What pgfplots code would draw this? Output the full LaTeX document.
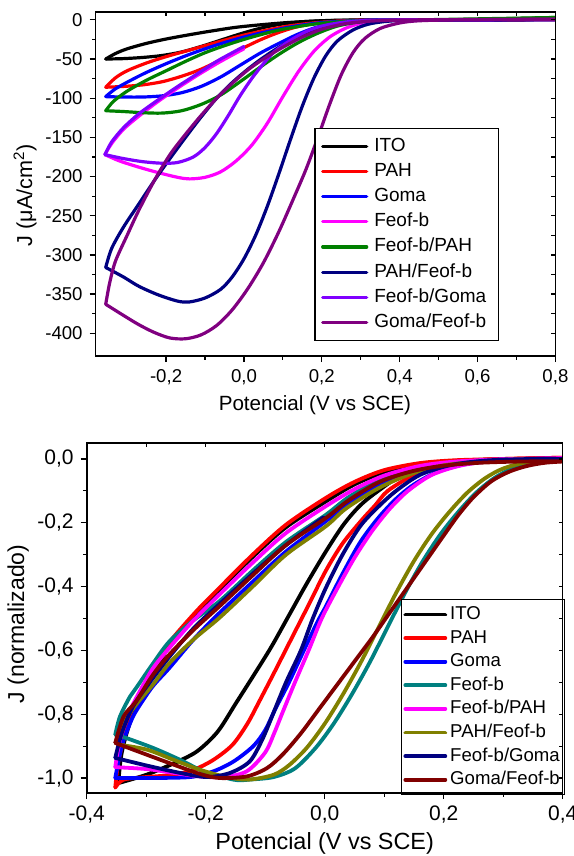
\documentclass[border=0pt]{standalone}
\usepackage{fontspec}
\setmainfont{Liberation Sans}
\usepackage{pgfplots}
\pgfplotsset{compat=1.18}

\definecolor{cMagenta}{RGB}{255,0,255}
\definecolor{cNavy}{RGB}{0,0,128}
\definecolor{cGreen}{RGB}{0,128,0}
\definecolor{cViolet}{RGB}{128,0,255}
\definecolor{cPurple}{RGB}{128,0,128}
\definecolor{cTeal}{RGB}{0,128,128}
\definecolor{cOlive}{RGB}{128,128,0}
\definecolor{cMaroon}{RGB}{128,0,0}

\pgfplotsset{
  frame/.style={scale only axis, axis line style={line width=0.8pt},
    tick style={line width=0.6pt, black}, major tick length=3pt, minor tick length=1.8pt,
    minor x tick num=1, minor y tick num=1,
    /pgf/number format/assume math mode=true, /pgf/number format/use comma,
    /pgf/number format/1000 sep={}},
  main/.style={frame, xtick pos=left, ytick pos=left, tick align=outside},
  mirror/.style={frame, xtick pos=right, ytick pos=right, tick align=inside,
    xticklabels={}, yticklabels={}, major tick length=2pt, minor tick length=2pt},
  topaxis/.style={at={(47.8pt,-178pt)}, anchor=south west, width=229.9pt, height=172pt,
    xmin=-0.381, xmax=0.8, ymin=-429, ymax=10,
    xtick={-0.2,0,0.2,0.4,0.6,0.8}, ytick={-400,-350,-300,-250,-200,-150,-100,-50,0}},
  botaxis/.style={at={(43.35pt,-396.5pt)}, anchor=south west, width=238pt, height=175pt,
    xmin=-0.4, xmax=0.4, ymin=-1.047, ymax=0.05,
    xtick={-0.4,-0.2,0,0.2,0.4}, ytick={-1,-0.8,-0.6,-0.4,-0.2,0}},
  t/.style={line width=1.6pt, smooth, line cap=round, line join=round},
  b/.style={line width=1.9pt, smooth, line cap=round, line join=round},
}

\begin{document}
\begin{tikzpicture}
\useasboundingbox (0,0) rectangle (286.5pt,-428pt);

% ---------- top panel: current density ----------
\begin{axis}[main, topaxis,
  tick label style={font=\fontsize{9.3}{11}\selectfont},
  xticklabel style={/pgf/number format/.cd, fixed, fixed zerofill, precision=1},
  yticklabel style={/pgf/number format/.cd, fixed, precision=0},
  xlabel={Potencial (V vs SCE)}, ylabel={J (μA/cm\textsuperscript{2})},
  xlabel style={font=\fontsize{10.3}{12}\selectfont, at={(axis description cs:0.477,-0.142)}, anchor=center},
  ylabel style={font=\fontsize{10.8}{12}\selectfont, at={(axis description cs:-0.1535,0.468)}, anchor=center},
  legend cell align=left,
  legend style={at={(rel axis cs:0.476,0.663)}, anchor=north west, draw=black, line width=0.6pt,
    font=\fontsize{9.5}{11}\selectfont, inner xsep=3pt, inner ysep=2.5pt,
    nodes={text height=7pt, text depth=2pt, inner ysep=1.8pt, inner xsep=3pt}},
  legend image code/.code={\draw[#1, line width=1.6pt] (0pt,0pt) -- (22pt,0pt);},
]
% ITO
\addplot[t, black] coordinates {(0.8,0.3)(0.45,0)(0.3,-0.2)(0.22,-0.8)(0.15,-2.5)(0.09,-6)(0.04,-11)(-0.01,-18)(-0.06,-26)(-0.11,-34)(-0.16,-41)(-0.21,-45.5)(-0.26,-48)(-0.31,-49.5)(-0.355,-50)};
\addplot[t, black, forget plot] coordinates {(-0.355,-50)(-0.33,-43)(-0.30,-37)(-0.25,-30)(-0.2,-24.5)(-0.14,-19)(-0.08,-14)(-0.02,-9.5)(0.05,-6)(0.12,-3.2)(0.2,-1.3)(0.3,-0.3)(0.45,0)(0.8,0.3)};
% PAH
\addplot[t, red] coordinates {(0.8,0.3)(0.5,0)(0.35,-0.2)(0.27,-1)(0.2,-3.5)(0.14,-8.5)(0.09,-16)(0.04,-26)(-0.01,-38)(-0.06,-51)(-0.11,-63)(-0.16,-72)(-0.21,-79)(-0.26,-83)(-0.31,-85)(-0.355,-86)};
\addplot[t, red, forget plot] coordinates {(-0.355,-86)(-0.33,-74)(-0.30,-65)(-0.25,-55)(-0.2,-47)(-0.15,-40)(-0.1,-33)(-0.05,-26)(0.0,-19.5)(0.06,-13)(0.12,-7.5)(0.2,-3)(0.3,-0.8)(0.4,-0.1)(0.8,0.3)};
% Goma
\addplot[t, blue] coordinates {(0.8,0.3)(0.4,0)(0.3,-1)(0.25,-3.5)(0.19,-9)(0.14,-18)(0.09,-30)(0.04,-43)(-0.01,-58)(-0.06,-73)(-0.11,-85)(-0.16,-93)(-0.21,-97)(-0.26,-98.5)(-0.31,-98.5)(-0.355,-98)};
\addplot[t, blue, forget plot] coordinates {(-0.355,-98)(-0.33,-88)(-0.29,-77)(-0.25,-67)(-0.2,-56)(-0.15,-46)(-0.1,-37)(-0.05,-29)(0.0,-22)(0.06,-15)(0.12,-9)(0.2,-3.5)(0.3,-0.8)(0.4,0)(0.8,0.3)};
% Feof-b
\addplot[t, cMagenta] coordinates {(0.8,0.3)(0.45,0)(0.35,-1.5)(0.3,-4.5)(0.26,-11)(0.22,-22)(0.18,-40)(0.14,-66)(0.1,-98)(0.06,-132)(0.02,-160)(-0.02,-180)(-0.06,-194)(-0.1,-201)(-0.14,-203)(-0.17,-201)(-0.22,-195)(-0.27,-188)(-0.32,-180)(-0.357,-172)};
\addplot[t, cMagenta, forget plot] coordinates {(-0.357,-172)(-0.34,-158)(-0.31,-140)(-0.27,-123)(-0.22,-104)(-0.17,-87)(-0.12,-71)(-0.07,-56)(-0.03,-45)(0.0,-37)};
% Feof-b/PAH
\addplot[t, cGreen] coordinates {(0.8,3)(0.6,0.5)(0.5,0)(0.38,-0.5)(0.3,-2.5)(0.24,-8)(0.19,-17)(0.14,-29)(0.09,-44)(0.04,-61)(-0.01,-79)(-0.06,-96)(-0.11,-108)(-0.16,-116)(-0.21,-119)(-0.26,-118.5)(-0.31,-117)(-0.355,-116)};
\addplot[t, cGreen, forget plot] coordinates {(-0.355,-116)(-0.335,-104)(-0.30,-91)(-0.25,-77)(-0.2,-65)(-0.15,-53)(-0.1,-42)(-0.05,-33)(0.0,-25)(0.05,-18)(0.1,-12)(0.18,-5.5)(0.26,-2)(0.35,-0.3)(0.45,0)(0.8,3)};
% PAH/Feof-b
\addplot[t, cNavy] coordinates {(0.8,0.3)(0.45,-0.3)(0.37,-1.8)(0.32,-5.5)(0.28,-13)(0.24,-27)(0.21,-46)(0.18,-74)(0.15,-110)(0.12,-152)(0.09,-196)(0.06,-238)(0.03,-275)(0.0,-305)(-0.03,-328)(-0.06,-344)(-0.1,-355)(-0.14,-360)(-0.17,-359)(-0.22,-351)(-0.27,-340)(-0.31,-328)(-0.355,-316)};
\addplot[t, cNavy, forget plot] coordinates {(-0.355,-316)(-0.34,-292)(-0.31,-265)(-0.27,-235)(-0.23,-205)(-0.19,-177)(-0.15,-150)(-0.11,-124)(-0.07,-100)(-0.03,-80)(0.01,-63)(0.05,-48)(0.1,-32)(0.15,-20)(0.2,-11)(0.26,-4.5)(0.33,-1.2)(0.45,0)(0.8,0.3)};
% Feof-b/Goma
\addplot[t, cViolet] coordinates {(0.8,0.3)(0.4,0)(0.3,-1.2)(0.25,-3.5)(0.2,-8)(0.16,-15)(0.12,-26)(0.08,-40)(0.05,-56)(0.02,-75)(-0.01,-97)(-0.04,-122)(-0.07,-145)(-0.1,-163)(-0.13,-175)(-0.17,-182)(-0.21,-183)(-0.26,-181)(-0.31,-177)(-0.357,-172)};
\addplot[t, cViolet, forget plot] coordinates {(-0.357,-172)(-0.34,-156)(-0.31,-138)(-0.27,-120)(-0.22,-102)(-0.17,-85)(-0.12,-69)(-0.07,-53)(-0.03,-42)(0.0,-34)};
% Goma/Feof-b
\addplot[t, cPurple] coordinates {(0.8,0.8)(0.55,0)(0.45,-1.2)(0.4,-4)(0.35,-11)(0.31,-24)(0.28,-42)(0.25,-70)(0.22,-108)(0.19,-150)(0.16,-190)(0.13,-225)(0.09,-270)(0.05,-310)(0.01,-343)(-0.03,-370)(-0.07,-390)(-0.11,-402)(-0.15,-407)(-0.19,-406)(-0.23,-399)(-0.27,-389)(-0.31,-377)(-0.355,-363)};
\addplot[t, cPurple, forget plot] coordinates {(-0.355,-363)(-0.345,-336)(-0.33,-308)(-0.30,-275)(-0.27,-243)(-0.23,-205)(-0.19,-172)(-0.15,-146)(-0.11,-122)(-0.07,-100)(-0.03,-81)(0.01,-64)(0.05,-50)(0.1,-35)(0.15,-22)(0.2,-12)(0.26,-5)(0.33,-1.5)(0.45,0)(0.8,0.8)};
\legend{ITO, PAH, Goma, Feof-b, Feof-b/PAH, PAH/Feof-b, Feof-b/Goma, Goma/Feof-b}
\end{axis}
\begin{axis}[mirror, topaxis]
\end{axis}

% ---------- bottom panel: normalised ----------
\begin{axis}[main, botaxis,
  tick label style={font=\fontsize{10.5}{12}\selectfont},
  xticklabel style={/pgf/number format/.cd, fixed, fixed zerofill, precision=1},
  yticklabel style={/pgf/number format/.cd, fixed, fixed zerofill, precision=1},
  xlabel={Potencial (V vs SCE)}, ylabel={J (normalizado)},
  xlabel style={font=\fontsize{11.7}{13}\selectfont, at={(axis description cs:0.5,-0.143)}, anchor=center},
  ylabel style={font=\fontsize{11.5}{13}\selectfont, at={(axis description cs:-0.144,0.483)}, anchor=center},
  legend cell align=left,
  legend style={at={(rel axis cs:0.66,0.554)}, anchor=north west, draw=black, line width=0.6pt,
    font=\fontsize{9.3}{11}\selectfont, inner xsep=1pt, inner ysep=1.5pt,
    nodes={text height=7pt, text depth=2pt, inner ysep=1.4pt, inner xsep=1.5pt}},
  legend image code/.code={\draw[#1, line width=1.9pt] (0pt,0pt) -- (20pt,0pt);},
]
% ITO
\addplot[b, black] coordinates {(-0.347,-1.016)(-0.3,-0.99)(-0.255,-0.955)(-0.215,-0.917)(-0.18,-0.855)(-0.149,-0.765)(-0.12,-0.68)(-0.09,-0.59)(-0.06,-0.49)(-0.03,-0.39)(0.002,-0.29)(0.032,-0.205)(0.06,-0.145)(0.09,-0.1)(0.13,-0.05)(0.18,-0.02)(0.25,-0.005)(0.32,0)(0.4,0.002)};
\addplot[b, black, forget plot] coordinates {(-0.347,-1.016)(-0.342,-0.93)(-0.333,-0.86)(-0.322,-0.8)(-0.305,-0.735)(-0.28,-0.65)(-0.258,-0.575)(-0.215,-0.485)(-0.177,-0.41)(-0.121,-0.307)(-0.065,-0.214)(0.002,-0.133)(0.05,-0.08)(0.1,-0.042)(0.16,-0.017)(0.22,-0.006)(0.3,-0.001)(0.4,0)};
% PAH
\addplot[b, red] coordinates {(-0.352,-1.03)(-0.338,-1.005)(-0.3,-0.997)(-0.255,-0.99)(-0.22,-0.974)(-0.187,-0.943)(-0.155,-0.896)(-0.13,-0.83)(-0.11,-0.76)(-0.085,-0.67)(-0.055,-0.56)(-0.025,-0.45)(0.002,-0.35)(0.03,-0.265)(0.063,-0.19)(0.085,-0.145)(0.106,-0.1)(0.15,-0.05)(0.195,-0.02)(0.25,-0.006)(0.3,0)(0.4,0.004)};
\addplot[b, red, forget plot] coordinates {(-0.352,-1.03)(-0.347,-0.95)(-0.338,-0.88)(-0.327,-0.8)(-0.31,-0.735)(-0.285,-0.65)(-0.261,-0.575)(-0.216,-0.478)(-0.177,-0.404)(-0.121,-0.3)(-0.065,-0.206)(0.002,-0.122)(0.05,-0.072)(0.1,-0.035)(0.16,-0.013)(0.22,-0.004)(0.3,0)(0.4,0.004)};
% Goma
\addplot[b, blue] coordinates {(-0.352,-1.0)(-0.3,-1.0)(-0.226,-0.997)(-0.187,-0.979)(-0.153,-0.948)(-0.12,-0.9)(-0.1,-0.85)(-0.082,-0.78)(-0.06,-0.7)(-0.035,-0.6)(-0.012,-0.51)(0.002,-0.462)(0.03,-0.36)(0.06,-0.26)(0.09,-0.185)(0.12,-0.125)(0.15,-0.08)(0.19,-0.04)(0.24,-0.015)(0.3,-0.004)(0.36,0)(0.4,0)};
\addplot[b, blue, forget plot] coordinates {(-0.352,-1.0)(-0.341,-0.9)(-0.327,-0.828)(-0.317,-0.79)(-0.29,-0.715)(-0.261,-0.655)(-0.22,-0.565)(-0.177,-0.483)(-0.121,-0.385)(-0.065,-0.29)(0.002,-0.195)(0.036,-0.145)(0.092,-0.08)(0.148,-0.038)(0.2,-0.016)(0.26,-0.005)(0.33,0)(0.4,0)};
% Feof-b
\addplot[b, cTeal] coordinates {(-0.352,-0.864)(-0.333,-0.875)(-0.288,-0.906)(-0.243,-0.943)(-0.204,-0.979)(-0.165,-1.0)(-0.146,-1.007)(-0.126,-1.005)(-0.086,-0.997)(-0.05,-0.97)(-0.015,-0.905)(0.015,-0.83)(0.045,-0.74)(0.075,-0.64)(0.105,-0.53)(0.135,-0.42)(0.165,-0.32)(0.195,-0.235)(0.225,-0.165)(0.255,-0.105)(0.285,-0.06)(0.315,-0.03)(0.35,-0.012)(0.4,-0.002)};
\addplot[b, cTeal, forget plot] coordinates {(-0.352,-0.864)(-0.344,-0.807)(-0.327,-0.744)(-0.317,-0.718)(-0.29,-0.645)(-0.261,-0.572)(-0.22,-0.505)(-0.177,-0.446)(-0.121,-0.35)(-0.065,-0.26)(0.002,-0.175)(0.04,-0.12)(0.09,-0.068)(0.15,-0.033)(0.2,-0.016)(0.26,-0.006)(0.32,-0.001)(0.4,0)};
% Feof-b/PAH
\addplot[b, cMagenta] coordinates {(-0.352,-0.966)(-0.299,-0.972)(-0.254,-0.984)(-0.21,-0.995)(-0.17,-0.997)(-0.131,-0.979)(-0.1,-0.92)(-0.085,-0.86)(-0.072,-0.8)(-0.05,-0.7)(-0.027,-0.6)(-0.005,-0.5)(0.02,-0.41)(0.05,-0.31)(0.08,-0.225)(0.11,-0.155)(0.14,-0.1)(0.18,-0.05)(0.23,-0.02)(0.29,-0.005)(0.35,0)(0.4,0.002)};
\addplot[b, cMagenta, forget plot] coordinates {(-0.352,-0.966)(-0.344,-0.88)(-0.327,-0.786)(-0.317,-0.75)(-0.29,-0.66)(-0.261,-0.592)(-0.22,-0.505)(-0.177,-0.425)(-0.121,-0.325)(-0.065,-0.232)(0.002,-0.148)(0.05,-0.095)(0.1,-0.052)(0.16,-0.022)(0.22,-0.008)(0.3,-0.001)(0.4,0.002)};
% PAH/Feof-b
\addplot[b, cOlive] coordinates {(-0.348,-0.895)(-0.299,-0.911)(-0.254,-0.943)(-0.21,-0.974)(-0.165,-0.997)(-0.128,-1.005)(-0.086,-0.99)(-0.06,-0.96)(-0.03,-0.905)(0.0,-0.83)(0.03,-0.74)(0.06,-0.64)(0.09,-0.53)(0.12,-0.42)(0.15,-0.32)(0.18,-0.235)(0.21,-0.165)(0.24,-0.105)(0.27,-0.06)(0.3,-0.03)(0.34,-0.01)(0.4,0)};
\addplot[b, cOlive, forget plot] coordinates {(-0.348,-0.895)(-0.338,-0.828)(-0.317,-0.77)(-0.29,-0.71)(-0.261,-0.64)(-0.22,-0.565)(-0.177,-0.498)(-0.121,-0.4)(-0.065,-0.3)(0.002,-0.211)(0.036,-0.155)(0.092,-0.09)(0.148,-0.045)(0.2,-0.02)(0.26,-0.008)(0.317,-0.002)(0.4,0)};
% Feof-b/Goma
\addplot[b, cNavy] coordinates {(-0.352,-0.937)(-0.299,-0.961)(-0.243,-0.984)(-0.198,-0.997)(-0.159,-0.984)(-0.126,-0.948)(-0.105,-0.88)(-0.087,-0.8)(-0.065,-0.7)(-0.04,-0.6)(-0.02,-0.5)(0.002,-0.404)(0.03,-0.3)(0.06,-0.21)(0.09,-0.15)(0.12,-0.1)(0.16,-0.05)(0.21,-0.02)(0.27,-0.005)(0.35,0)(0.4,0)};
\addplot[b, cNavy, forget plot] coordinates {(-0.352,-0.937)(-0.341,-0.859)(-0.322,-0.775)(-0.29,-0.69)(-0.261,-0.62)(-0.22,-0.53)(-0.177,-0.455)(-0.121,-0.36)(-0.065,-0.27)(-0.002,-0.183)};
% Goma/Feof-b
\addplot[b, cMaroon] coordinates {(-0.352,-0.89)(-0.299,-0.927)(-0.254,-0.958)(-0.21,-0.987)(-0.177,-1.0)(-0.131,-0.995)(-0.097,-0.969)(-0.07,-0.925)(-0.04,-0.86)(-0.01,-0.785)(0.02,-0.71)(0.05,-0.635)(0.08,-0.56)(0.11,-0.48)(0.14,-0.4)(0.17,-0.32)(0.2,-0.24)(0.225,-0.175)(0.25,-0.12)(0.28,-0.07)(0.31,-0.04)(0.34,-0.022)(0.37,-0.012)(0.4,-0.008)};
\addplot[b, cMaroon, forget plot] coordinates {(-0.352,-0.89)(-0.338,-0.807)(-0.317,-0.76)(-0.29,-0.68)(-0.261,-0.613)(-0.22,-0.535)(-0.177,-0.462)(-0.121,-0.365)(-0.065,-0.27)(0.002,-0.185)(0.04,-0.13)(0.092,-0.072)(0.148,-0.038)(0.2,-0.021)(0.26,-0.012)(0.33,-0.008)(0.4,-0.007)};
\legend{ITO, PAH, Goma, Feof-b, Feof-b/PAH, PAH/Feof-b, Feof-b/Goma, Goma/Feof-b}
\end{axis}
\begin{axis}[mirror, botaxis]
\end{axis}
\end{tikzpicture}
\end{document}
